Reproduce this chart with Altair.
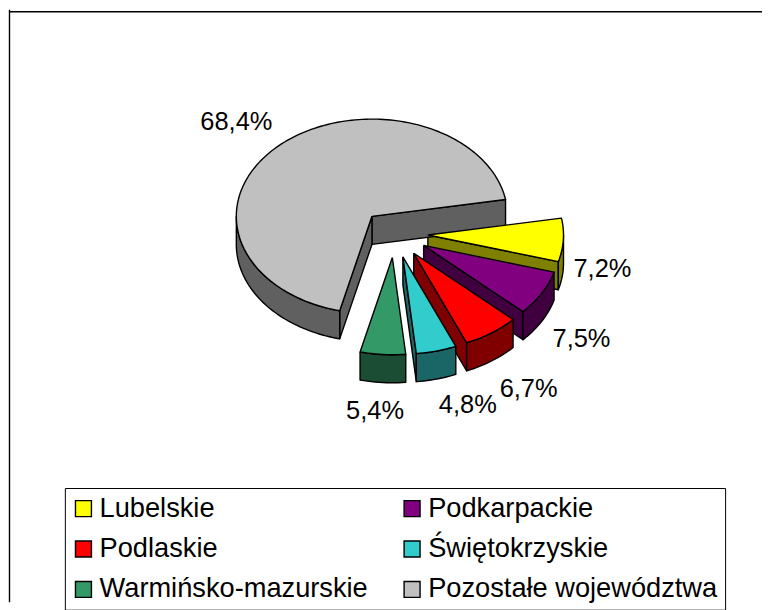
import math
import altair as alt
import pandas as pd

# Values
regions = ["Lubelskie", "Podkarpackie", "Podlaskie", "Świętokrzyskie",
           "Warmińsko-mazurskie", "Pozostałe województwa"]
shares = [7.2, 7.5, 6.7, 4.8, 5.4, 68.4]
labels = ["7,2%", "7,5%", "6,7%", "4,8%", "5,4%", "68,4%"]
top_colors = ["#FFFF00", "#800080", "#FF0000", "#33CCCC", "#339966", "#C0C0C0"]
side_colors = ["#808000", "#400040", "#800000", "#1A6666", "#1A4D33", "#606060"]
legend_order = ["Lubelskie", "Podlaskie", "Warmińsko-mazurskie",
                "Podkarpackie", "Świętokrzyskie", "Pozostałe województwa"]

label_x = [603, 582, 529, 468, 375, 236]
label_y = [269, 338, 388, 404, 410, 122]
CX, CY, RX, RY, DEPTH, EXPLODE = 394.7, 233.4, 136, 97, 28, 0.245
START = 10.0


def pt(ax, ay, t, dz=0.0):
    r = math.radians(t)
    return ax + RX * math.cos(r), ay - RY * math.sin(r) + dz


def arc(ax, ay, a, b, dz=0.0):
    n = max(2, int(abs(a - b) / 1.5) + 1)
    return [pt(ax, ay, a + (b - a) * i / (n - 1), dz) for i in range(n)]


tops, sides = [], []


def add(rows, pid, region, color, pts):
    pts = pts + [pts[0]]
    for i, (x, y) in enumerate(pts):
        rows.append({"poly": pid, "region": region, "color": color,
                     "i": i, "x": x, "y": y})


angle = START
for k, (reg, share) in enumerate(zip(regions, shares)):
    hi = angle
    lo = angle - share * 3.6
    angle = lo
    mid = math.radians((hi + lo) / 2)
    ax = CX + EXPLODE * RX * math.cos(mid)
    ay = CY - EXPLODE * RY * math.sin(mid)
    side = side_colors[k]
    # cut walls that face the viewer
    for e, visible in ((lo, math.cos(math.radians(lo)) > 0),
                       (hi, math.cos(math.radians(hi)) < 0)):
        if visible:
            ex, ey = pt(ax, ay, e)
            add(sides, f"c{k}{e}", reg, side,
                [(ax, ay), (ex, ey), (ex, ey + DEPTH), (ax, ay + DEPTH)])
    # outer wall: the part of the rim that faces down
    a, b = max(lo, -180), min(hi, 0)
    if b > a:
        add(sides, f"o{k}", reg, side,
            arc(ax, ay, a, b) + arc(ax, ay, b, a, DEPTH))
    add(tops, f"t{k}", reg, top_colors[k],
        [(ax, ay)] + arc(ax, ay, hi, lo))

x_scale = alt.Scale(domain=[8, 763], nice=False, zero=False)
y_scale = alt.Scale(domain=[601, 10], nice=False, zero=False)
X = alt.X("x:Q", scale=x_scale, axis=None)
Y = alt.Y("y:Q", scale=y_scale, axis=None)

side_layer = alt.Chart(pd.DataFrame(sides)).mark_line(
    stroke="black", strokeWidth=1.4, strokeJoin="round"
).encode(
    x=X, y=Y, order="i:Q", detail="poly:N",
    fill=alt.Fill("color:N", scale=None, legend=None),
)

top_layer = alt.Chart(pd.DataFrame(tops)).mark_line(
    stroke="black", strokeWidth=1.4, strokeJoin="round"
).encode(
    x=X, y=Y, order="i:Q", detail="poly:N",
    fill=alt.Fill(
        "region:N",
        scale=alt.Scale(domain=legend_order,
                        range=[top_colors[regions.index(r)] for r in legend_order]),
        legend=alt.Legend(
            title=None, orient="none", legendX=56, legendY=479.5,
            columns=2, symbolType="square", symbolSize=256, symbolOffset=-2,
            symbolStrokeColor="black", symbolStrokeWidth=1.4,
            labelFont="Liberation Sans", labelFontSize=27.3, labelColor="black",
            labelLimit=400, labelOffset=2.5,
            rowPadding=12.5, columnPadding=32.5, padding=7,
            strokeColor="black", fillColor="white",
        ),
    ),
)

text_layer = alt.Chart(pd.DataFrame({"x": label_x, "y": label_y, "t": labels})).mark_text(
    font="Liberation Sans", fontSize=25.5, color="black", baseline="middle", align="center"
).encode(x=X, y=Y, text="t:N")

frame_top = alt.Chart(pd.DataFrame({"y": [12]})).mark_rule(
    color="black", strokeWidth=1.4).encode(y=Y)
frame_left = alt.Chart(pd.DataFrame({"x": [8.5]})).mark_rule(
    color="black", strokeWidth=1.4).encode(x=X)

chart = alt.layer(
    frame_top, frame_left, side_layer, top_layer, text_layer
).resolve_scale(fill="independent").properties(
    width=755, height=594, padding=0, background="white"
).configure_view(stroke=None)

chart.save("out.html", embed_options={"renderer": "svg", "actions": False})
